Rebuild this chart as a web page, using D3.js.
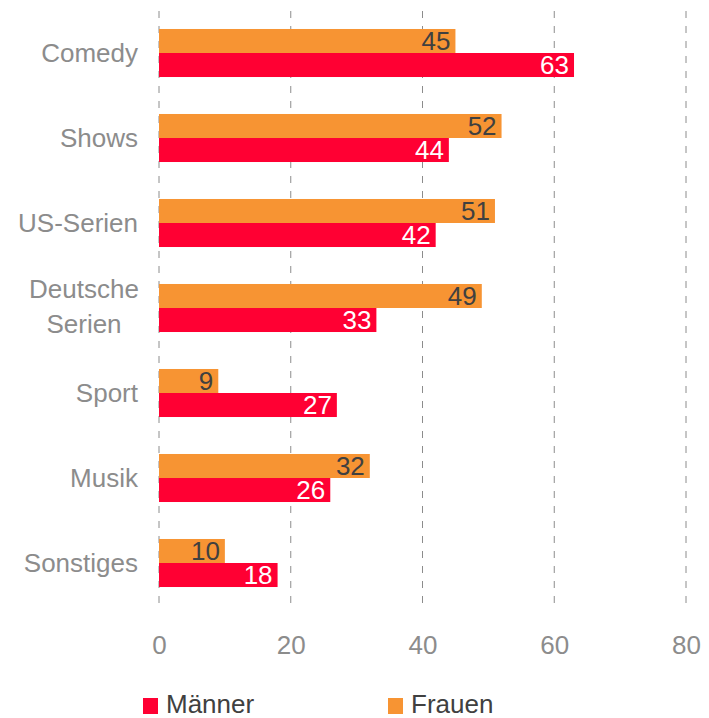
<!DOCTYPE html>
<html><head><meta charset="utf-8">
<script src="https://cdn.jsdelivr.net/npm/d3@7"></script>
<style>body{margin:0;background:#fff;}svg{display:block;}text{font-family:"Liberation Sans",Arial,sans-serif;}</style>
</head><body>
<svg id="c" width="709" height="718"></svg>
<script>
const categories = ["Comedy","Shows","US-Serien","Deutsche Serien","Sport","Musik","Sonstiges"];
const frauen = [45,52,51,49,9,32,10];
const maenner = [63,44,42,33,27,26,18];
const xTicks = [0,20,40,60,80];
const seriesNames = ["Männer","Frauen"];
const colors = {"Männer":"#FF0033","Frauen":"#F79433"};

const FF = "Liberation Sans, Arial, sans-serif";
const FS = 26;
const svg = d3.select("#c");
const x = d3.scaleLinear().domain([0,80]).range([159,686]);
const y = d3.scaleBand().domain(categories).range([10.5,605.5]).paddingInner(0.435).paddingOuter(0.2175);

// gridlines
svg.append("g").selectAll("line").data(xTicks).join("line")
  .attr("x1",d=>x(d)).attr("x2",d=>x(d)).attr("y1",11).attr("y2",605)
  .attr("stroke","#8c8c8c").attr("stroke-width",1).attr("stroke-dasharray","7,8");

// x axis labels
const xa = svg.append("g").attr("transform","translate(0,654)")
  .call(d3.axisBottom(x).tickValues(xTicks).tickSize(0).tickPadding(0));
xa.attr("font-family",FF).attr("font-size",FS);
xa.select(".domain").remove();
xa.selectAll("text").attr("fill","#8c8c8c").attr("dy",0).attr("y",0);

// bars
const bh = y.bandwidth()/2;
const g = svg.append("g").attr("font-family",FF).attr("font-size",FS);
categories.forEach((c,i)=>{
  const y0 = y(c);
  g.append("rect").attr("x",x(0)).attr("y",y0).attr("width",x(frauen[i])-x(0)).attr("height",bh).attr("fill",colors["Frauen"]);
  g.append("rect").attr("x",x(0)).attr("y",y0+bh).attr("width",x(maenner[i])-x(0)).attr("height",bh).attr("fill",colors["Männer"]);
  g.append("text").attr("x",x(frauen[i])-5).attr("y",y0+bh/2).attr("dy","0.35em").attr("text-anchor","end")
    .attr("fill","#404040").text(frauen[i]);
  g.append("text").attr("x",x(maenner[i])-5).attr("y",y0+bh*1.5).attr("dy","0.35em").attr("text-anchor","end")
    .attr("fill","#ffffff").text(maenner[i]);
  // category label
  const cy = y0+bh;
  if (c === "Deutsche Serien") {
    const t = g.append("text").attr("text-anchor","middle").attr("fill","#8c8c8c");
    t.append("tspan").attr("x",84).attr("y",cy-10).text("Deutsche");
    t.append("tspan").attr("x",84).attr("y",cy+25).text("Serien");
  } else {
    g.append("text").attr("x",138).attr("y",cy).attr("dy","0.35em").attr("text-anchor","end")
      .attr("fill","#8c8c8c").text(c);
  }
});

// legend
const legX = {"Männer":143,"Frauen":388};
const lg = svg.append("g").attr("font-family",FF).attr("font-size",FS);
seriesNames.forEach(s=>{
  lg.append("rect").attr("x",legX[s]).attr("y",698).attr("width",15).attr("height",16).attr("fill",colors[s]);
  lg.append("text").attr("x",legX[s]+23).attr("y",713).attr("fill","#404040").text(s);
});
</script>
</body></html>
